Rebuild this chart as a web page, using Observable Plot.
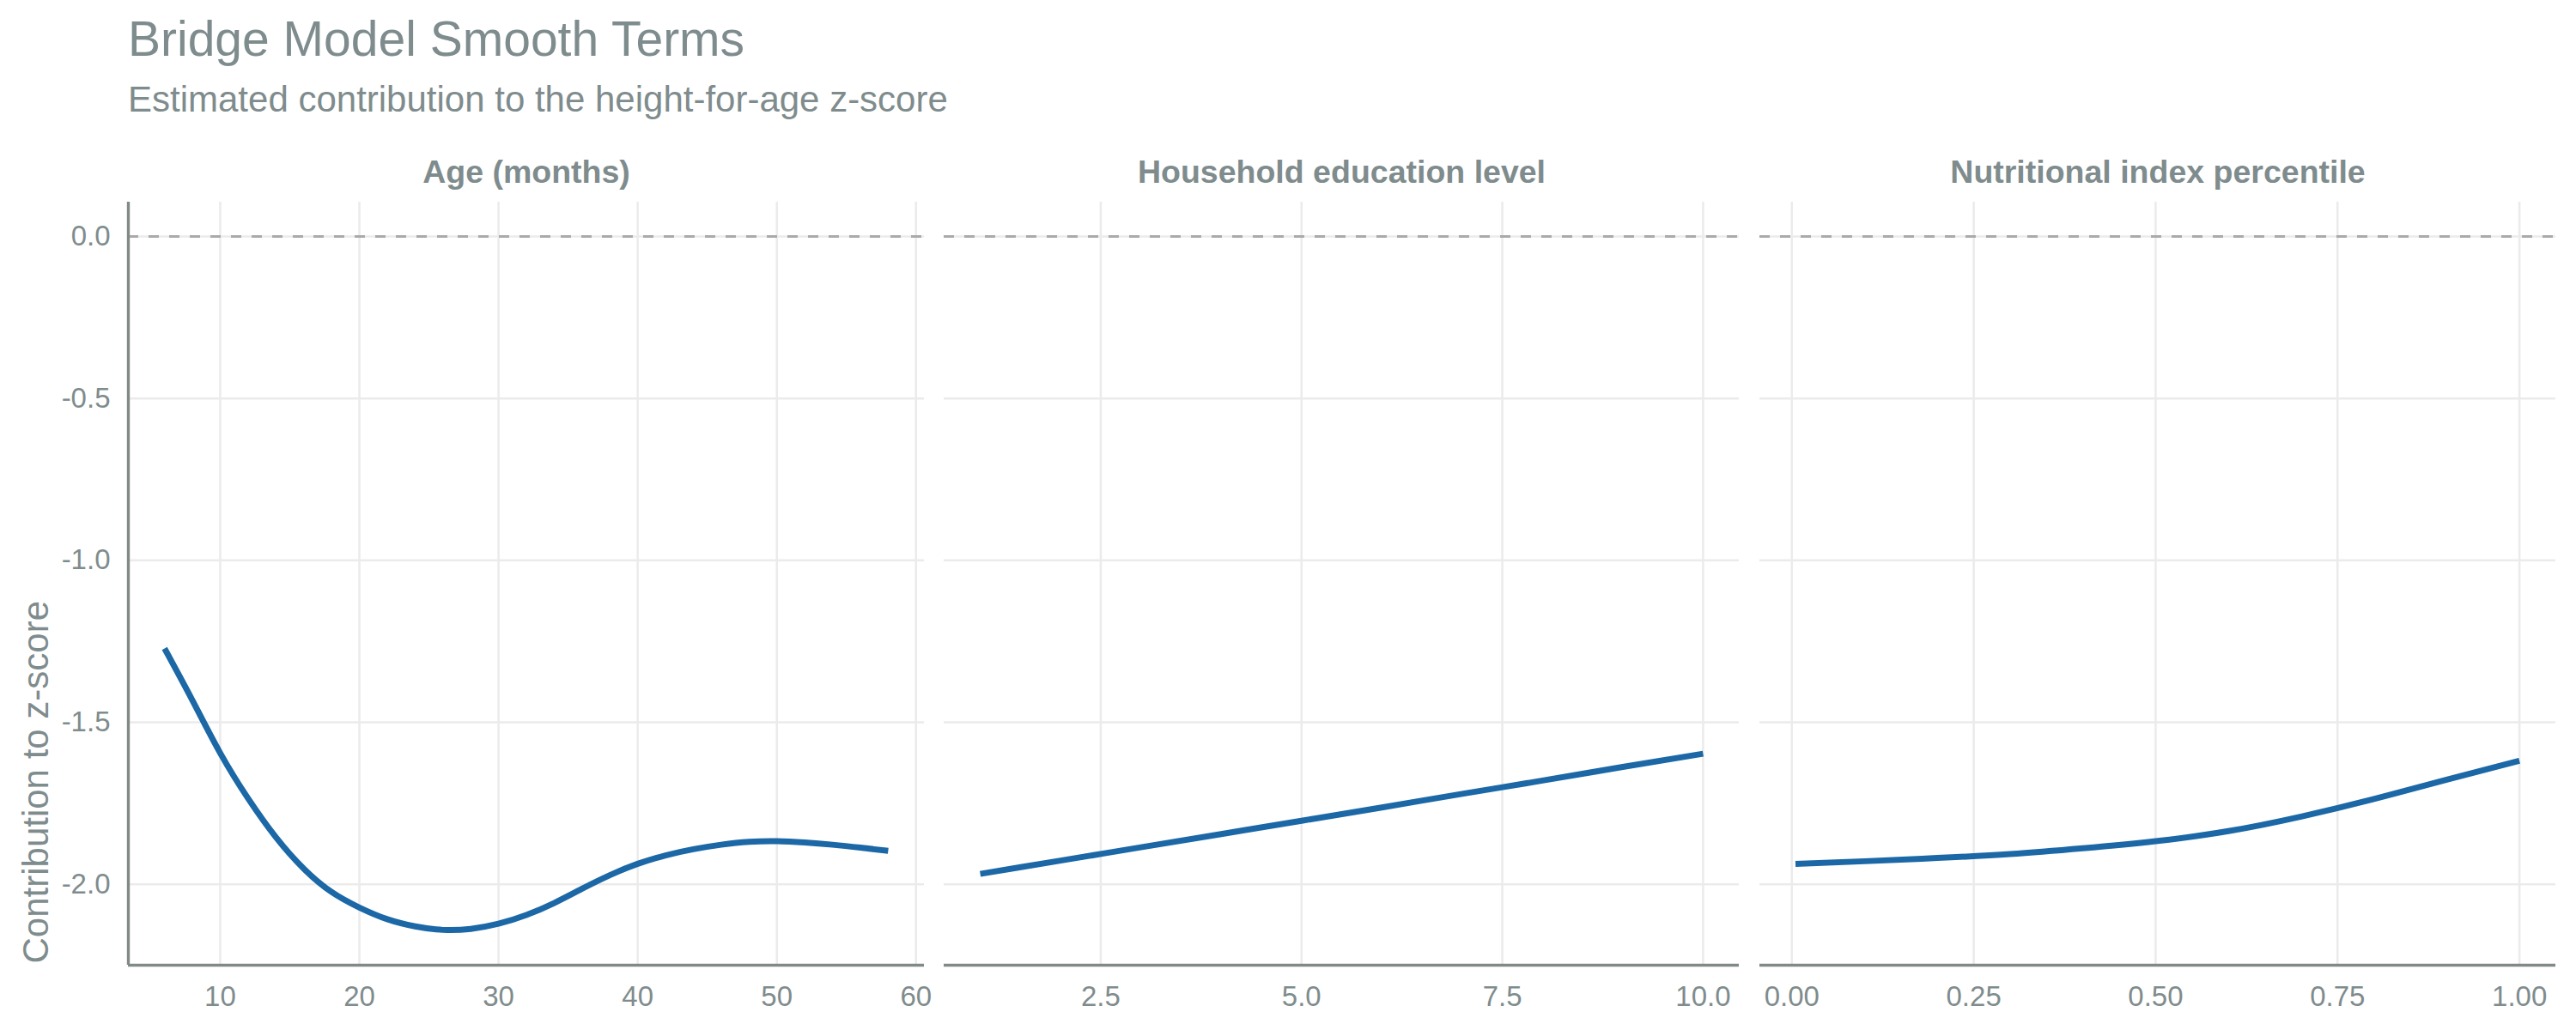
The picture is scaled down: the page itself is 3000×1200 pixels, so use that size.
<!DOCTYPE html>
<html>
<head>
<meta charset="utf-8">
<script src="https://cdn.jsdelivr.net/npm/d3@7"></script>
<script src="https://cdn.jsdelivr.net/npm/@observablehq/plot@0.6"></script>
<style>
  html, body { margin: 0; padding: 0; background: #ffffff; }
  #wrap { position: relative; width: 3000px; height: 1200px; background: #ffffff; font-family: "Liberation Sans", Arial, sans-serif; }
  #title { position: absolute; left: 149px; top: 16.5px; font-size: 57px; line-height: 57px; color: #7f8c8d; white-space: nowrap; }
  #subtitle { position: absolute; left: 149px; top: 95px; font-size: 42px; line-height: 42px; color: #7f8c8d; white-space: nowrap; }
  .panel { position: absolute; top: 150px; }
</style>
</head>
<body>
<div id="wrap">
  <div id="title">Bridge Model Smooth Terms</div>
  <div id="subtitle">Estimated contribution to the height-for-age z-score</div>
  <div class="panel" id="p1" style="left:0px"></div>
  <div class="panel" id="p2" style="left:1089px"></div>
  <div class="panel" id="p3" style="left:2039px"></div>
</div>
<script>
// ---- data ----
const panelTitles = ["Age (months)", "Household education level", "Nutritional index percentile"];
const yAxisTitle = "Contribution to z-score";

const ageX = [6, 8, 10, 12, 14, 16, 18, 20, 22, 24, 26, 28, 30, 32, 34, 36, 38, 40, 42, 44, 46, 48, 50, 52, 54, 56, 58];
const ageY = [-1.272, -1.432, -1.595, -1.735, -1.855, -1.952, -2.024, -2.072, -2.108, -2.130, -2.141, -2.138, -2.122, -2.095, -2.058, -2.014, -1.972, -1.937, -1.911, -1.892, -1.878, -1.869, -1.867, -1.871, -1.878, -1.887, -1.897];

const eduX = [1, 2, 3, 4, 5, 6, 7, 8, 9, 10];
const eduY = [-1.968, -1.927, -1.886, -1.845, -1.804, -1.763, -1.721, -1.680, -1.638, -1.597];

const nutX = [0.005, 0.1, 0.2, 0.3, 0.4, 0.5, 0.6, 0.7, 0.8, 0.9, 1.0];
const nutY = [-1.937, -1.929, -1.919, -1.907, -1.889, -1.867, -1.836, -1.791, -1.737, -1.677, -1.619];

const ageTicks = [10, 20, 30, 40, 50, 60];
const eduTicks = [2.5, 5.0, 7.5, 10.0];
const nutTicks = [0.00, 0.25, 0.50, 0.75, 1.00];
const yTicks = [-2.0, -1.5, -1.0, -0.5, 0.0];

const ageDomain = [3.4, 60.6];
const eduDomain = [0.55, 10.45];
const nutDomain = [-0.044, 1.05];
const yDomain = [-2.25, 0.106];

// ---- styles ----
const textColor = "#7f8c8d";
const axisColor = "#828a86";
const gridColor = "#ebebeb";
const lineColor = "#1c68a6";
const font = "Liberation Sans, Arial, sans-serif";

function panel({xs, ys, xTicks, xDomain, xFormat, title, first, width, marginLeft}) {
  const data = xs.map((x, i) => ({x, y: ys[i]}));
  const marks = [
    Plot.gridX(xTicks, {stroke: gridColor, strokeOpacity: 1, strokeWidth: 2.5}),
    Plot.gridY(yTicks, {stroke: gridColor, strokeOpacity: 1, strokeWidth: 2.5}),
    Plot.ruleY([0], {stroke: "#aaaaaa", strokeWidth: 3.2, strokeDasharray: "12,12"}),
    Plot.ruleY([yDomain[0]], {stroke: axisColor, strokeWidth: 3.5}),
    Plot.axisX({ticks: xTicks, tickFormat: xFormat, tickSize: 0, tickPadding: 24, fontSize: 33, fill: textColor, label: null}),
    Plot.text([title], {frameAnchor: "top", dy: -23, lineAnchor: "bottom", fontSize: 37.5, fontWeight: "bold", fill: textColor}),
    Plot.line(data, {x: "x", y: "y", stroke: lineColor, strokeWidth: 7, curve: "natural", strokeLinecap: "butt"})
  ];
  if (first) {
    marks.splice(4, 0,
      Plot.ruleX([xDomain[0]], {stroke: axisColor, strokeWidth: 3.4}),
      Plot.axisY({ticks: yTicks, tickFormat: d => d.toFixed(1), tickSize: 0, tickPadding: 21, fontSize: 33, fill: textColor, label: null}),
      Plot.text([yAxisTitle], {frameAnchor: "bottom-left", dx: -94, dy: -2, rotate: -90, textAnchor: "start", lineAnchor: "bottom", fontSize: 42, fill: textColor})
    );
  }
  return Plot.plot({
    width,
    height: 1050,
    marginLeft,
    marginRight: 10,
    marginTop: 85,
    marginBottom: 76,
    x: {domain: xDomain, axis: null},
    y: {domain: yDomain, axis: null},
    style: {fontFamily: font, color: textColor, background: "transparent", overflow: "visible"},
    marks
  });
}

document.getElementById("p1").appendChild(panel({
  xs: ageX, ys: ageY, xTicks: ageTicks, xDomain: ageDomain, xFormat: d => d.toFixed(0),
  title: panelTitles[0], first: true, width: 1086, marginLeft: 149
}));
document.getElementById("p2").appendChild(panel({
  xs: eduX, ys: eduY, xTicks: eduTicks, xDomain: eduDomain, xFormat: d => d.toFixed(1),
  title: panelTitles[1], first: false, width: 946, marginLeft: 10
}));
document.getElementById("p3").appendChild(panel({
  xs: nutX, ys: nutY, xTicks: nutTicks, xDomain: nutDomain, xFormat: d => d.toFixed(2),
  title: panelTitles[2], first: false, width: 947, marginLeft: 10
}));
</script>
</body>
</html>
